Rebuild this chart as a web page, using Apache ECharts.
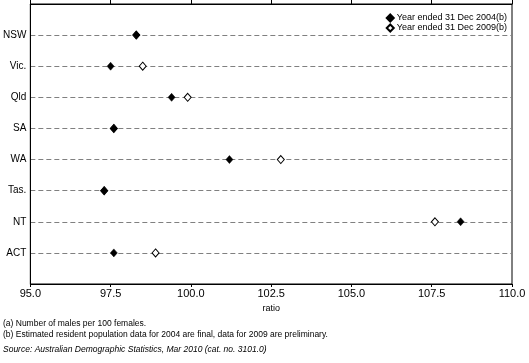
<!DOCTYPE html>
<html>
<head>
<meta charset="utf-8">
<script src="https://cdn.jsdelivr.net/npm/echarts@6/dist/echarts.min.js"></script>
<style>html,body{margin:0;padding:0;background:#fff;}#c{width:529px;height:363px;}</style>
</head>
<body>
<div id="c"></div>
<script>
const categories = ['NSW', 'Vic.', 'Qld', 'SA', 'WA', 'Tas.', 'NT', 'ACT'];
const year2004 = [98.3, 97.5, 99.4, 97.6, 101.2, 97.3, 108.4, 97.6];
const year2009 = [98.3, 98.5, 99.9, 97.6, 102.8, 97.3, 107.6, 98.9];
const xTicks = [95, 97.5, 100, 102.5, 105, 107.5, 110];
const seriesNames = ['Year ended 31 Dec 2004(b)', 'Year ended 31 Dec 2009(b)'];

const font = 'Arial, "Liberation Sans", sans-serif';
const yCats = [''].concat(categories, ['']);
const chart = echarts.init(document.getElementById('c'), null, {renderer: 'canvas'});
const xMin = xTicks[0], xMax = xTicks[xTicks.length - 1], xInt = xTicks[1] - xTicks[0];

chart.setOption({
  animation: false,
  backgroundColor: '#fff',
  grid: {left: 29, right: 17, top: 4, bottom: 79, show: true, borderColor: '#000', borderWidth: 1, backgroundColor: 'transparent'},
  legend: {
    orient: 'vertical', right: 22, top: 13, padding: 0, itemWidth: 7, itemHeight: 7, itemGap: 0,
    textStyle: {fontFamily: font, fontSize: 9, lineHeight: 10, color: '#000', padding: [0, 0, 0, -2]},
    data: seriesNames
  },
  xAxis: [{
    type: 'value', position: 'bottom', min: xMin, max: xMax, interval: xInt,
    axisLine: {show: true, lineStyle: {color: '#000', width: 1}},
    axisTick: {show: true, length: 3, lineStyle: {color: '#000'}},
    axisLabel: {fontFamily: font, fontSize: 11, color: '#000', margin: 4, formatter: v => v.toFixed(1)},
    splitLine: {show: false},
    name: 'ratio', nameLocation: 'middle', nameGap: 20,
    nameTextStyle: {fontFamily: font, fontSize: 9, color: '#000'}
  }, {
    type: 'value', position: 'top', min: xMin, max: xMax, interval: xInt,
    axisLine: {show: true, lineStyle: {color: '#000', width: 1}},
    axisTick: {show: true, length: 4, lineStyle: {color: '#000'}},
    axisLabel: {show: false},
    splitLine: {show: false}
  }],
  yAxis: {
    type: 'category', data: yCats, inverse: true, boundaryGap: false,
    axisLine: {show: true, lineStyle: {color: '#000', width: 1}},
    axisTick: {show: false},
    axisLabel: {fontFamily: font, fontSize: 10, color: '#000', margin: 4, interval: 0},
    splitLine: {show: true, interval: (i, v) => v !== '', lineStyle: {color: '#808080', type: [5, 3], width: 1}}
  },
  series: [{
    name: seriesNames[0], type: 'scatter', symbol: 'diamond', symbolSize: [7, 8],
    itemStyle: {color: '#000', borderColor: '#000', borderWidth: 0.5, opacity: 1},
    data: categories.map((c, i) => [year2004[i], c]), z: 4
  }, {
    name: seriesNames[1], type: 'scatter', symbol: 'diamond', symbolSize: [7, 8],
    itemStyle: {color: '#fff', borderColor: '#000', borderWidth: 1, opacity: 1},
    data: categories.map((c, i) => [year2009[i], c]), z: 3
  }],
  graphic: [
    {type: 'text', left: 3, top: 319, style: {text: '(a) Number of males per 100 females.', font: '8.5px ' + font, fill: '#000'}},
    {type: 'text', left: 3, top: 330, style: {text: '(b) Estimated resident population data for 2004 are final, data for 2009 are preliminary.', font: '8.5px ' + font, fill: '#000'}},
    {type: 'text', left: 3, top: 345, style: {text: 'Source: Australian Demographic Statistics, Mar 2010 (cat. no. 3101.0)', font: 'italic 8.5px ' + font, fill: '#000'}}
  ]
});
</script>
</body>
</html>
